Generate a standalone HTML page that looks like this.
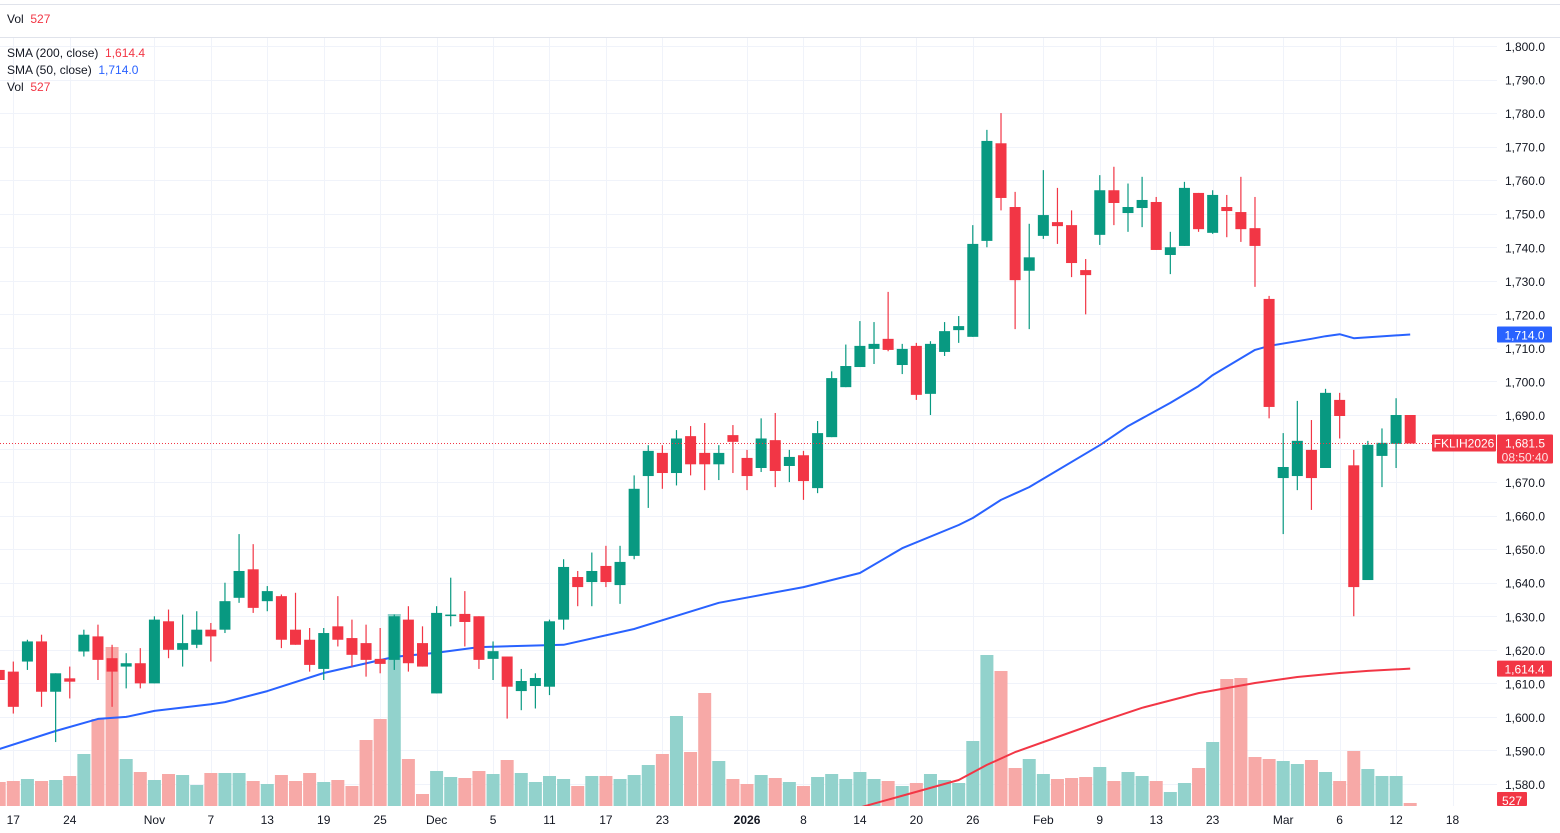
<!DOCTYPE html>
<html><head><meta charset="utf-8">
<style>
body{margin:0;width:1560px;height:833px;background:#fff;overflow:hidden;font-family:"Liberation Sans",sans-serif;}
#wrap{position:relative;width:1560px;height:833px;}
svg{position:absolute;left:0;top:0;}
.lg{position:absolute;left:7px;font-size:12px;color:#131722;white-space:nowrap;}
</style></head><body>
<div id="wrap">
<svg id="chart" width="1560" height="833"></svg>
<div class="lg" style="top:12px">Vol&nbsp; <span style="color:#f23645">527</span></div>
<div class="lg" style="top:46px">SMA (200, close)&nbsp; <span style="color:#f23645">1,614.4</span></div>
<div class="lg" style="top:63px">SMA (50, close)&nbsp; <span style="color:#2962ff">1,714.0</span></div>
<div class="lg" style="top:80px">Vol&nbsp; <span style="color:#f23645">527</span></div>
</div>
<script>
const opens=[1614,1613.5,1616.5,1622.5,1607.5,1611.5,1619.5,1624,1617.5,1615,1616,1610,1628.5,1620,1621.5,1626,1626,1635.5,1644,1634.5,1636,1626,1623,1614.3,1627,1623.5,1622,1617.3,1617,1629,1622,1607,1630.5,1630.7,1630,1617.3,1618,1607.7,1609.2,1609,1629,1641.7,1640.2,1645,1639.3,1648,1671.8,1678.7,1672.7,1683.7,1678.7,1675.3,1684,1677.2,1674.2,1682.5,1674.8,1678,1668.2,1683.4,1698.3,1704.3,1709.7,1712.7,1704.9,1710.6,1696.3,1708.8,1715.3,1713.3,1741.9,1771,1752,1733,1743.4,1747.5,1746.6,1733.2,1743.7,1757,1750.2,1751.7,1753.5,1737.7,1740.4,1756.2,1744.3,1752,1750.5,1745.7,1724.6,1671.2,1671.8,1679.6,1674.2,1694.5,1675,1640.8,1677.8,1681.4,1690];
const closes=[1611,1603,1622.5,1607.5,1613,1610.5,1624.5,1617,1613.5,1616,1610,1629,1620,1622,1626,1624,1634.5,1643.5,1632.5,1637.5,1623,1621.5,1615.5,1625,1623,1618.5,1617,1615.8,1630,1616,1615,1631,1630.5,1628.3,1617,1619.6,1609,1610.7,1611.6,1628.5,1644.7,1638.7,1643.5,1640.2,1646.2,1668,1679.3,1672.7,1683,1675.3,1675.3,1678.7,1682,1671.8,1683,1673.3,1677.5,1670.3,1684.6,1701,1704.6,1710.6,1711.2,1709.4,1709.7,1696,1711.2,1715,1716.5,1741,1771.7,1754.7,1730.2,1737,1749.6,1746.3,1735.3,1731.7,1757,1753.2,1752,1754.1,1739.2,1740,1757.7,1745.4,1755.6,1750.8,1745.4,1740.4,1692.4,1674.5,1682.3,1671.2,1696.6,1689.7,1638.7,1681.1,1681.7,1690,1681.5];
const highs=[1616,1616.5,1623,1624.5,1613,1615,1626,1627.5,1621.5,1619,1620.5,1630,1632,1630.5,1631.5,1628,1640,1654.5,1651.5,1639,1636.5,1637,1626.5,1626.5,1636,1629,1627.5,1626.5,1630.5,1633,1627,1633,1641.5,1637.5,1630,1622.5,1618,1614.3,1613,1629,1647,1643.5,1649,1651,1651,1672,1681,1681,1685.5,1686.7,1687.6,1681,1687,1679.6,1689,1690.6,1679.6,1679.3,1688.2,1703,1711,1718,1717.7,1726.7,1711.2,1711.5,1712,1717.7,1719.5,1746.6,1775,1780,1756.5,1747,1763,1757.7,1751,1736.5,1761.5,1764,1759,1761,1755,1744.6,1759.5,1756.2,1757,1755.6,1761,1755,1725.5,1684.6,1694.2,1688.5,1697.8,1696.6,1679.6,1682.3,1686,1695,1690];
const lows=[1609,1601,1614,1603,1592.5,1605.5,1618,1611,1603,1608.5,1608.5,1610,1617.5,1615,1620.5,1616.5,1625,1634,1631,1631.5,1620.5,1621.5,1613.5,1611,1621,1615,1612,1613,1614,1613.5,1615,1607,1627,1621,1614.3,1611,1599.5,1602,1602.5,1606.5,1626,1633,1633,1638.7,1633.7,1647,1662.3,1668,1669,1672,1667.6,1670.6,1672.7,1667.6,1673,1668.5,1670,1664.7,1666.7,1683.4,1698.3,1704.3,1705.2,1709,1702.2,1694.5,1690,1707.6,1711.5,1713.3,1740,1751,1715.6,1715.6,1742.5,1741,1731.1,1720,1740.7,1746.6,1744.6,1746,1739.2,1732,1740.4,1744.6,1744,1743,1741.6,1728.2,1689,1654.5,1667.6,1661.7,1674.2,1683,1630,1640.8,1668.5,1674.2,1681.5];
const volumes=[4200,4375,4725,4375,4550,5250,9100,15225,27825,8225,5950,4550,5600,5425,3675,5775,5775,5775,4375,3850,5425,4375,5775,4200,4550,3500,11550,15225,33600,8225,2100,6125,5075,4900,6125,5600,8050,5775,4200,5250,4725,3500,5250,5250,4725,5425,7175,9100,15750,9450,19775,7875,4725,3850,5425,4900,4200,3500,5075,5600,4725,5950,4725,4375,3500,4025,5600,4550,4025,11375,26425,23625,6650,8225,5600,4725,4900,5075,6825,4375,5950,5250,4375,2450,4025,6650,11200,22225,22400,8575,8225,7875,7350,8050,5950,4375,9625,6475,5250,5250,527];
const sma50Idx=[0,4,7,9,11,15,16,19,23,28,31,34,40,45,51,57,61,64,68,69,71,73,78,80,83,85,86,89,90,93,94,95,96,100];
const sma50Val=[1590.4,1595.8,1599.4,1600,1601.8,1603.8,1604.4,1607.7,1613.1,1617.9,1619.1,1620.8,1621.5,1626.2,1634,1638.7,1642.9,1650.3,1657.2,1659.3,1664.7,1668.5,1681,1686.7,1693.6,1698.6,1701.9,1709.4,1710.6,1712.7,1713.5,1714.1,1712.9,1714.0];
const sma200Idx=[61,68,70,72,75,78,81,85,89,92,95,97,100];
const sma200Val=[1573,1581.2,1585.7,1589.5,1594,1598.5,1602.7,1607.1,1610.1,1611.9,1613.1,1613.7,1614.4];
const priceTicks=[1580,1590,1600,1610,1620,1630,1640,1650,1660,1670,1680,1690,1700,1710,1720,1730,1740,1750,1760,1770,1780,1790,1800];
const dateIdx=[1,5,11,15,19,23,27,31,35,39,43,47,53,57,61,65,69,74,78,82,86,91,95,99,103];
const dateLabels=["17","24","Nov","7","13","19","25","Dec","5","11","17","23","2026","8","14","20","26","Feb","9","13","23","Mar","6","12","18"];
const lastPrice=1681.5, sma50Last=1714.0, sma200Last=1614.4;

const NS="http://www.w3.org/2000/svg";
const svg=document.getElementById('chart');
const X0=-0.8, STEP=14.11, PLOT_R=1497, PLOT_T=37, PLOT_B=806;
const xs=i=>X0+i*STEP;
const ys=p=>46+(1800-p)*3.3545;
const vs=v=>PLOT_B-v/175;
function mk(tag,attrs,parent){const e=document.createElementNS(NS,tag);for(const k in attrs)e.setAttribute(k,attrs[k]);(parent||svg).appendChild(e);return e;}
const defs=mk('defs',{});
const cp=mk('clipPath',{id:'plot'},defs);mk('rect',{x:0,y:PLOT_T,width:PLOT_R,height:PLOT_B-PLOT_T},cp);

let e=mk('line',{x1:0,y1:4.5,x2:1560,y2:4.5,stroke:'#e0e3eb'});


e=mk('line',{x1:0,y1:37.5,x2:1560,y2:37.5,stroke:'#e0e3eb'});



const grid=mk('g',{});


priceTicks.forEach(p=>{const y=Math.round(ys(p))+0.5;mk('line',{x1:0,y1:y,x2:PLOT_R,y2:y,stroke:'#f0f3fa'},grid);});
dateIdx.forEach(i=>{const x=Math.round(xs(i))+0.5;mk('line',{x1:x,y1:PLOT_T+1,x2:x,y2:PLOT_B,stroke:'#f0f3fa'},grid);});

const plot=mk('g',{'clip-path':'url(#plot)'});
const vg=mk('g',{},plot);


volumes.forEach((v,i)=>{const up=closes[i]>=opens[i];const y=vs(v);
 const r=mk('rect',{x:xs(i)-6.5,y:y,width:13,height:PLOT_B-y,fill:up?'#92d2cc':'#f7a9a7'},vg);
 
 });

function line(idx,val,color,name){let d='';idx.forEach((i,k)=>{d+=(k?'L':'M')+xs(i).toFixed(1)+' '+ys(val[k]).toFixed(1);});
 const p=mk('path',{d:d,stroke:color,'stroke-width':2,fill:'none','stroke-linejoin':'round'},plot);
 
 }
line(sma200Idx,sma200Val,'#f23645','sma200-line');
line(sma50Idx,sma50Val,'#2962ff','sma50-line');

const cg=mk('g',{},plot);


opens.forEach((o,i)=>{const c=closes[i];const up=c>=o;const col=up?'#089981':'#f23645';const x=xs(i);
 const w=mk('line',{x1:x,y1:ys(highs[i]),x2:x,y2:ys(lows[i]),stroke:col,'stroke-width':1.2},cg);
 
 
 const t=ys(Math.max(o,c)),b=ys(Math.min(o,c));
 const r=mk('rect',{x:x-5.5,y:t,width:11,height:Math.max(1.5,b-t),fill:col},cg);
 
 });

const ly=ys(lastPrice);
e=mk('line',{x1:0,y1:ly,x2:1497,y2:ly,stroke:'#f23645','stroke-width':1,'stroke-dasharray':'1 2'});



const ax=mk('g',{'font-size':12,fill:'#131722','text-anchor':'end'});


priceTicks.forEach(p=>{const t=mk('text',{x:1545,y:ys(p)+5},ax);t.textContent=p.toLocaleString('en-US',{minimumFractionDigits:1});
 
 });

function badge(y,h,color,lines,x,w,name){const g=mk('g',{});
 
 
 mk('rect',{x:x,y:y,width:w,height:h,fill:color,rx:1},g);
 lines.forEach((s,k)=>{const t=mk('text',{x:x+w/2,y:y+13+k*14,'font-size':12,fill:k?'#fde2e4':'#fff','text-anchor':'middle'},g);t.textContent=s;});}
badge(ys(sma50Last)-8,16,'#2962ff',[sma50Last.toLocaleString('en-US',{minimumFractionDigits:1})],1497,55,'sma50-price-badge');
badge(ys(sma200Last)-8,16,'#f23645',[sma200Last.toLocaleString('en-US',{minimumFractionDigits:1})],1497,55,'sma200-price-badge');
badge(ly-9,29,'#f23645',[lastPrice.toLocaleString('en-US',{minimumFractionDigits:1}),'08:50:40'],1497,56,'last-price-badge');
badge(ly-9,17,'#f23645',['FKLIH2026'],1432,64,'symbol-badge');
badge(PLOT_B-14,14,'#f23645',['527'],1497,30,'volume-badge');

const dx=mk('g',{'font-size':12,fill:'#131722','text-anchor':'middle'});


dateIdx.forEach((i,k)=>{const t=mk('text',{x:xs(i),y:824},dx);t.textContent=dateLabels[k];
 if(dateLabels[k]==='2026')t.setAttribute('font-weight','bold');
 
 });
</script>
</body></html>
